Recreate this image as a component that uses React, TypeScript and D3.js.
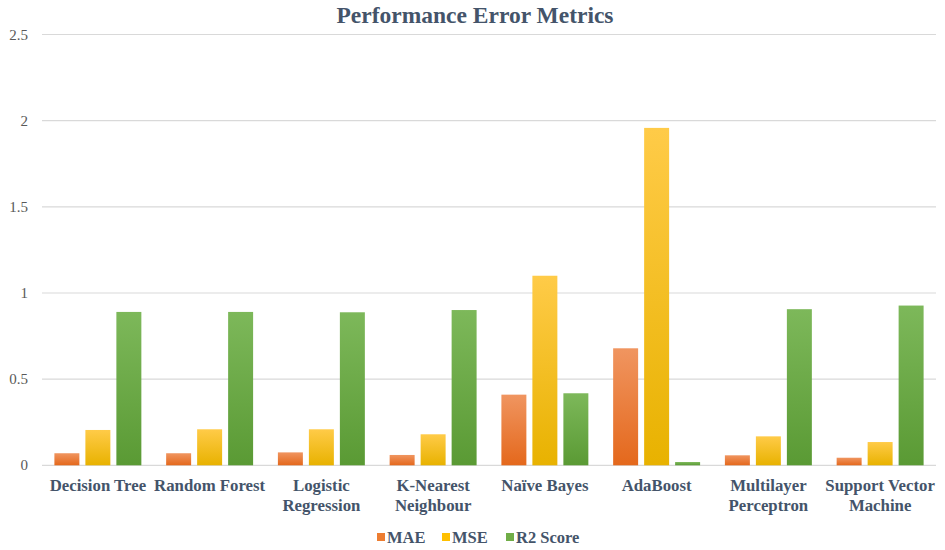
import React from "react";
import * as d3 from "d3";

const categories: string[][] = [
  ["Decision Tree"],
  ["Random Forest"],
  ["Logistic", "Regression"],
  ["K-Nearest", "Neighbour"],
  ["Naïve Bayes"],
  ["AdaBoost"],
  ["Multilayer", "Perceptron"],
  ["Support Vector", "Machine"],
];
const seriesNames = ["MAE", "MSE", "R2 Score"];
const maeValues = [0.07, 0.07, 0.075, 0.06, 0.41, 0.679, 0.058, 0.044];
const mseValues = [0.205, 0.209, 0.209, 0.18, 1.1, 1.958, 0.168, 0.135];
const r2Values = [0.89, 0.89, 0.888, 0.901, 0.418, 0.019, 0.906, 0.927];
const yTicks = [0, 0.5, 1, 1.5, 2, 2.5];

const seriesColors = [
  { top: "#F09560", bottom: "#E4681C", legend: "#ED7D31" },
  { top: "#FFCB48", bottom: "#E8B200", legend: "#FFC000" },
  { top: "#7DB85A", bottom: "#5A9A34", legend: "#70AD47" },
];

export default function App() {
  const W = 945;
  const H = 550;
  const left = 42;
  const right = 936;
  const yTop = 34.5;
  const yZero = 465.3;
  const serif = "'Liberation Serif', 'Times New Roman', serif";
  const textColor = "#44546A";

  const x0 = d3
    .scaleBand<number>()
    .domain(categories.map((_, i) => i))
    .range([left, right])
    .padding(0);
  const x1 = d3
    .scaleBand<string>()
    .domain(seriesNames)
    .range([0, x0.bandwidth()])
    .paddingInner(0.194)
    .paddingOuter(0.4);
  const y = d3.scaleLinear().domain([0, 2.5]).range([yZero, yTop]);

  const allValues = [maeValues, mseValues, r2Values];

  return (
    <svg width={W} height={H} style={{ position: "absolute", left: 0, top: 0, background: "#fff" }}>
      <defs>
        {seriesColors.map((c, i) => (
          <linearGradient key={i} id={`grad${i}`} x1="0" y1="0" x2="0" y2="1">
            <stop offset="0%" stopColor={c.top} />
            <stop offset="100%" stopColor={c.bottom} />
          </linearGradient>
        ))}
      </defs>
      <rect x={0} y={0} width={W} height={H} fill="#fff" />
      <text
        x={475}
        y={23}
        textAnchor="middle"
        fontFamily={serif}
        fontWeight="bold"
        fontSize={23.5}
        fill={textColor}
      >
        Performance Error Metrics
      </text>
      {yTicks.map((t) => (
        <g key={t}>
          <line x1={left} x2={right} y1={y(t)} y2={y(t)} stroke="#D9D9D9" strokeWidth={1.2} />
          <text
            x={28}
            y={y(t) + 5}
            textAnchor="end"
            fontFamily={serif}
            fontSize={15}
            fill="#595959"
          >
            {t}
          </text>
        </g>
      ))}
      {allValues.map((vals, si) =>
        vals.map((v, ci) => (
          <rect
            key={`${si}-${ci}`}
            x={(x0(ci) as number) + (x1(seriesNames[si]) as number)}
            y={y(v)}
            width={x1.bandwidth()}
            height={yZero - y(v)}
            fill={`url(#grad${si})`}
          />
        ))
      )}
      {categories.map((lines, ci) => (
        <text
          key={ci}
          textAnchor="middle"
          fontFamily={serif}
          fontWeight="bold"
          fontSize={16.8}
          fill={textColor}
        >
          {lines.map((l, li) => (
            <tspan key={li} x={(x0(ci) as number) + x0.bandwidth() / 2} y={491 + li * 20}>
              {l}
            </tspan>
          ))}
        </text>
      ))}
      {(() => {
        const items = [
          { sq: 377, tx: 387 },
          { sq: 442, tx: 452 },
          { sq: 506, tx: 516 },
        ];
        return seriesNames.map((s, i) => (
          <g key={s}>
            <rect x={items[i].sq} y={533} width={8} height={8} fill={seriesColors[i].legend} />
            <text
              x={items[i].tx}
              y={543}
              fontFamily={serif}
              fontWeight="bold"
              fontSize={16.5}
              fill={textColor}
            >
              {s}
            </text>
          </g>
        ));
      })()}
    </svg>
  );
}
